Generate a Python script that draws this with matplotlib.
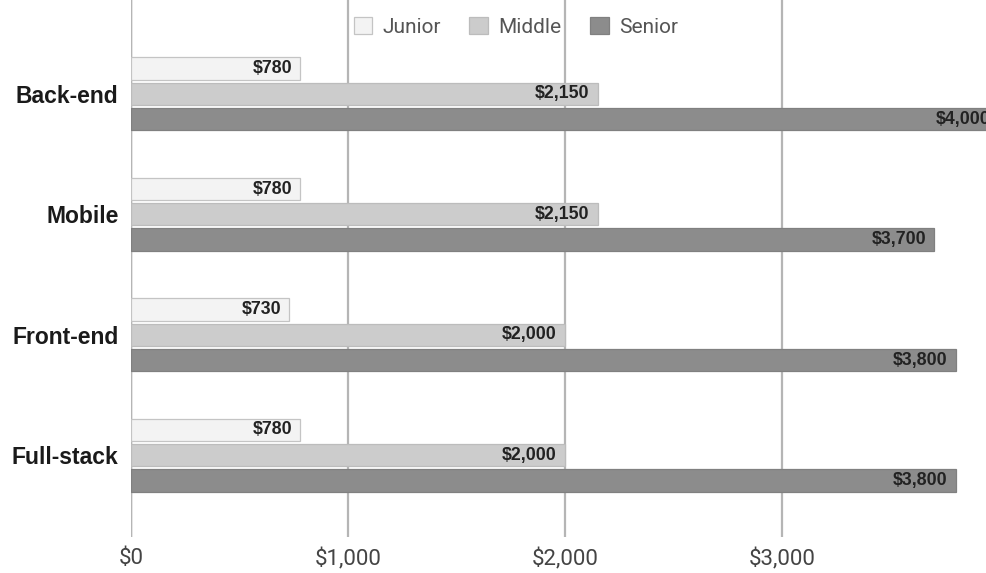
import matplotlib.pyplot as plt
import numpy as np
from matplotlib.ticker import FuncFormatter

categories = ['Back-end', 'Mobile', 'Front-end', 'Full-stack']
levels = ['Junior', 'Middle', 'Senior']
junior = [780, 780, 730, 780]
middle = [2150, 2150, 2000, 2000]
senior = [4000, 3700, 3800, 3800]

colours = ['#f3f3f3', '#cccccc', '#8c8c8c']
edges = ['#c4c4c4', '#bcbcbc', '#808080']


def money(v, pos=None):
    return '${:,.0f}'.format(v)


def main():
    fig = plt.figure(figsize=(9.86, 5.73), dpi=100)
    ax = fig.add_axes([0.1329, 0.0628, 0.8671, 0.9372])

    y = np.arange(len(categories))
    height = 0.185
    offsets = [-0.21, 0.0, 0.21]

    for i, values in enumerate([junior, middle, senior]):
        bars = ax.barh(y + offsets[i], values, height=height, color=colours[i],
                       edgecolor=edges[i], linewidth=0.9, label=levels[i], zorder=3)
        for bar, v in zip(bars, values):
            ax.text(v - 37, bar.get_y() + bar.get_height() / 2, money(v),
                    ha='right', va='center', fontsize=12.8, fontweight='bold',
                    family='Liberation Sans', color='#222222', zorder=4)

    ax.set_xlim(0, 3940)
    ax.set_ylim(3.68, -0.78)
    ax.set_xticks([0, 1000, 2000, 3000])
    ax.xaxis.set_major_formatter(FuncFormatter(money))
    ax.set_yticks(y)
    ax.set_yticklabels(categories, fontsize=16.5, fontweight='bold',
                       family='Liberation Sans', color='#1a1a1a')

    ax.grid(axis='x', color='#b5b5b5', linewidth=1.6, zorder=0)
    ax.axvline(0, color='#555555', linewidth=1.6, zorder=1)
    for s in ax.spines.values():
        s.set_visible(False)
    ax.tick_params(axis='y', length=0, pad=9)
    ax.tick_params(axis='x', length=0, pad=8, labelsize=16, colors='#444444')
    for t in ax.get_xticklabels():
        t.set_family('Roboto')

    leg = ax.legend(loc='center', bbox_to_anchor=(0.45, 0.95), ncol=3, frameon=False,
                    handlelength=0.9, handleheight=0.9, columnspacing=1.35,
                    handletextpad=0.5, prop={'family': 'Roboto', 'size': 15})
    for t in leg.get_texts():
        t.set_color('#555555')

    plt.savefig('out.png', dpi=100)


if __name__ == '__main__':
    main()
